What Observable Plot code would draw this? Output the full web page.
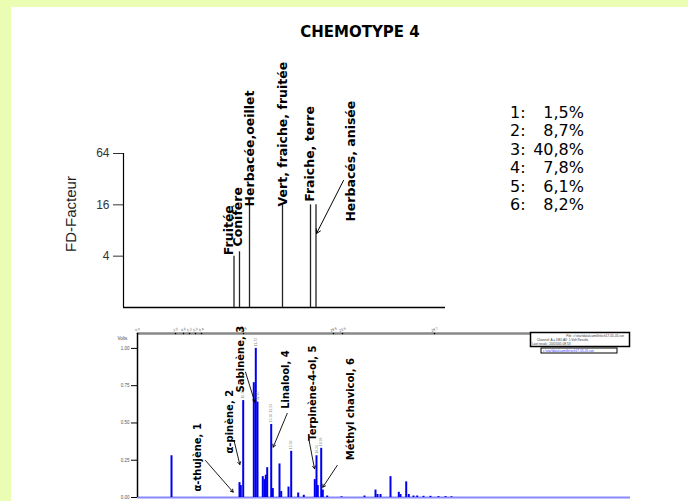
<!DOCTYPE html>
<html><head><meta charset="utf-8">
<script src="https://cdn.jsdelivr.net/npm/d3@7"></script>
<script src="https://cdn.jsdelivr.net/npm/@observablehq/plot@0.6"></script>
<style>
body{margin:0;background:#eafdb3;}
#page{position:relative;width:688px;height:501px;overflow:hidden;}
#panel{position:absolute;left:11px;top:7px;right:0;bottom:0;background:#fff;}
.abs{position:absolute;}
#title{left:260px;width:200px;top:23px;line-height:18px;text-align:center;font:bold 15px "Comic Sans MS","DejaVu Sans",sans-serif;color:#000;}
#legend{left:510px;top:104px;font:16px "Comic Sans MS","DejaVu Sans",sans-serif;line-height:18.4px;color:#000;}
#legend .k{display:inline-block;width:18px;}
#legend .v{display:inline-block;width:56px;text-align:right;}
#ylab{left:70px;top:214px;transform:translate(-50%,-50%) rotate(-90deg);font:15px "Liberation Sans",Arial,sans-serif;color:#222;white-space:nowrap;}
svg{overflow:visible;}
</style></head><body>
<div id="page"><div id="panel"></div>
<div id="title" class="abs"></div>
<div id="legend" class="abs"></div>
<div id="ylab" class="abs"></div>
<div id="top" class="abs" style="left:0;top:0"></div>
<div id="bot" class="abs" style="left:0;top:310px"></div>
<svg class="abs" style="left:529px;top:331px" width="104" height="26">
 <rect x="1.5" y="1.5" width="99" height="14" fill="#fff" stroke="#000" stroke-width="1.5"/>
 <text x="95" y="5.5" font-size="3.2" text-anchor="end" fill="#333" font-family="Liberation Sans">File: c:\star\data\camille\ech17-05-05.run</text>
 <text x="8" y="9.5" font-size="3.2" fill="#333" font-family="Liberation Sans">Channel: A = DB5 AV: 1 Volt Results</text>
 <text x="3" y="13.5" font-size="3.2" fill="#333" font-family="Liberation Sans">Last recalc: 20/05/05 08:53</text>
 <rect x="12" y="17" width="76" height="5" fill="#fff" stroke="#000" stroke-width="1"/>
 <text x="14" y="20.8" font-size="3.2" fill="#3030ff" font-family="Liberation Sans">c:\star\data\camille\ech17-05-05.run</text>
</svg>
</div>
<script>
const FONT = '"Comic Sans MS","DejaVu Sans",sans-serif';
const title = "CHEMOTYPE 4";
const yLabel = "FD-Facteur";

// Olfactogram (FD factor) — retention time (min) and FD value
const olfNames = ["Fruitée", "Conifère", "Herbacée,oeillet", "Vert, fraiche, fruitée", "Fraiche, terre", "Herbacés, anisée"];
const olfTimes = [9.65, 10.2, 11.2, 14.5, 17.3, 17.85];
const olfFD = [4, 4.5, 16, 16, 16, 16];
const olfLabelTimes = [9.1, 10.0, 11.25, 14.5, 17.2, 21.3];
const olfLabelFD = [4, 5.05, 14.9, 14.9, 16.9, 9.9];
const olfTicks = [4, 16, 64];
const olfArrowFrom = [[20.6, 30.9]];
const olfArrowTo = [[17.9, 7.37]];

// Chromatogram peaks — retention time (min) and signal (Volts)
const peakTimes = [3.4, 10.2, 10.33, 10.57, 11.63, 11.83, 12.0, 12.53, 12.7, 12.83, 12.97, 13.37, 13.53, 14.2, 14.37, 15.1, 15.37, 16.07, 16.63, 17.73, 17.9, 18.03, 18.37, 18.53, 18.97, 20.4, 22.7, 23.8, 24.0, 24.3, 25.3, 26.13, 26.3, 26.87, 27.13, 27.6, 27.97, 28.6, 29.3, 30.1, 30.8, 31.4];
const peakVolts = [0.28, 0.10, 0.08, 0.65, 0.77, 1.00, 0.64, 0.14, 0.12, 0.15, 0.20, 0.49, 0.06, 0.225, 0.04, 0.07, 0.31, 0.03, 0.015, 0.12, 0.28, 0.08, 0.33, 0.05, 0.01, 0.005, 0.01, 0.05, 0.02, 0.02, 0.14, 0.035, 0.02, 0.105, 0.02, 0.01, 0.01, 0.008, 0.008, 0.006, 0.006, 0.005];
const voltTicks = [0, 0.25, 0.5, 0.75, 1.0];
const timeTicks = [0, 3.8, 4.6, 5.2, 5.8, 6.4, 10.6, 19.6, 20.5, 29.7];
const peakLabelTimes = [10.57, 11.83, 12.0, 13.37, 15.37, 17.9, 18.37];
const peakLabelText = ["10.70", "11.72", "11.90", "13.36 13.53", "15.38", "18.24", "18.38"];

// Identified compounds
const compNames = ["α-thujène", "α-pinène", "Sabinène", "Linalool", "Terpinène-4-ol", "Méthyl chavicol"];
const compNumbers = [1, 2, 3, 4, 5, 6];
const compPercents = ["1,5%", "8,7%", "40,8%", "7,8%", "6,1%", "8,2%"];
const compLabelTimes = [6.0, 9.2, 10.3, 14.8, 17.5, 21.3];
const compLabelVolts = [0.04, 0.295, 0.705, 0.595, 0.38, 0.25];
const compArrowFrom = [[6.8, 0.248], [9.65, 0.383], [10.8, 0.841], [14.97, 0.564], [17.13, 0.393], [19.97, 0.215]];
const compArrowTo = [[9.57, 0.036], [10.23, 0.221], [11.73, 0.64], [13.57, 0.338], [17.7, 0.193], [18.53, 0.069]];

document.getElementById("title").textContent = title;
document.getElementById("ylab").textContent = yLabel;
document.getElementById("legend").innerHTML = compNumbers.map((n, i) =>
  `<div><span class="k">${n}:</span><span class="v">${compPercents[i]}</span></div>`).join("");

const olf = olfNames.map((name, i) => ({name, t: olfTimes[i], fd: olfFD[i], lt: olfLabelTimes[i], lfd: olfLabelFD[i]}));
const olfArrows = olfArrowFrom.map((f, i) => ({x1: f[0], y1: f[1], x2: olfArrowTo[i][0], y2: olfArrowTo[i][1]}));

const topPlot = Plot.plot({
  width: 688, height: 310,
  marginLeft: 123, marginRight: 243, marginTop: 153, marginBottom: 3,
  style: {background: "transparent", overflow: "visible"},
  x: {domain: [-1.4, 30.8], axis: null},
  y: {type: "log", base: 2, domain: [1, 64], axis: null},
  marks: [
    Plot.axisY({ticks: olfTicks, tickSize: 10, tickPadding: 4, tickFormat: d => String(d), fontSize: 12, fontFamily: "Liberation Sans, Arial, sans-serif", label: null, stroke: "#333", color: "#333"}),
    Plot.ruleX([-1.4], {stroke: "#000", strokeWidth: 1.2}),
    Plot.ruleY([1], {stroke: "#000", strokeWidth: 1.5}),
    Plot.ruleX(olf, {x: "t", y1: 1, y2: "fd", stroke: "#222", strokeWidth: 1.3}),
    Plot.text(olf, {x: "lt", y: "lfd", text: "name", rotate: -90, textAnchor: "start", lineAnchor: "middle", fontWeight: "bold", fontSize: 12.5, fontFamily: FONT, fill: "#000", dy: -1}),
    Plot.arrow(olfArrows, {x1: "x1", y1: "y1", x2: "x2", y2: "y2", stroke: "#000", strokeWidth: 1, headLength: 7})
  ]
});
document.getElementById("top").appendChild(topPlot);

const peaks = peakTimes.map((t, i) => ({t, v: peakVolts[i]}));
const peakLabels = peakLabelTimes.map((t, i) => ({t, v: peakVolts[peakTimes.indexOf(t)], text: peakLabelText[i]}));
const comps = compNames.map((name, i) => ({
  label: `${name}, ${compNumbers[i]}`, t: compLabelTimes[i], v: compLabelVolts[i],
  x1: compArrowFrom[i][0], y1: compArrowFrom[i][1], x2: compArrowTo[i][0], y2: compArrowTo[i][1]
}));

const botPlot = Plot.plot({
  width: 688, height: 191,
  marginLeft: 137, marginRight: 58, marginTop: 23, marginBottom: 4,
  style: {background: "transparent", overflow: "visible"},
  x: {domain: [0, 49.3], axis: null},
  y: {domain: [0, 1.1], axis: null},
  marks: [
    Plot.axisY({ticks: voltTicks, tickSize: 6, tickPadding: 2, tickFormat: d3.format(".2f"), fontSize: 4.5, fontFamily: "Liberation Sans, Arial, sans-serif", label: null, color: "#555", stroke: "#000"}),
    Plot.ruleY([0], {stroke: "#8888ff", strokeWidth: 2}),
    Plot.ruleX(peaks, {x: "t", y1: 0, y2: "v", stroke: "#0000ee", strokeWidth: 2}),
    Plot.ruleY([1.1], {x1: 0, x2: 39.3, stroke: "#888", strokeWidth: 2.5}),
    Plot.ruleX([0], {y1: 0, y2: 1.1, stroke: "#000", strokeWidth: 1.5}),
    Plot.dot(timeTicks, {x: d => d, y: 1.1, r: 0.8, fill: "#000"}),
    Plot.text(timeTicks, {x: d => d, y: 1.1, text: d => d3.format(".1f")(d), fontSize: 3.5, rotate: -20, dy: -4, fill: "#444", fontFamily: "Liberation Sans"}),
    Plot.text(["Volts"], {frameAnchor: "top-left", dx: -20, dy: 3, textAnchor: "start", fontSize: 4.5, fill: "#444", fontFamily: "Liberation Sans"}),
    Plot.text(peakLabels, {x: "t", y: "v", text: "text", rotate: -90, textAnchor: "start", dy: -2, fontSize: 3.5, fill: "#888", fontFamily: "Liberation Sans"}),
    Plot.text(comps, {x: "t", y: "v", text: "label", rotate: -90, textAnchor: "start", lineAnchor: "middle", fontWeight: "bold", fontSize: 10, fontFamily: FONT, fill: "#000"}),
    Plot.arrow(comps, {x1: "x1", y1: "y1", x2: "x2", y2: "y2", stroke: "#000", strokeWidth: 0.9, headLength: 5})
  ]
});
document.getElementById("bot").appendChild(botPlot);
</script>
</body></html>
